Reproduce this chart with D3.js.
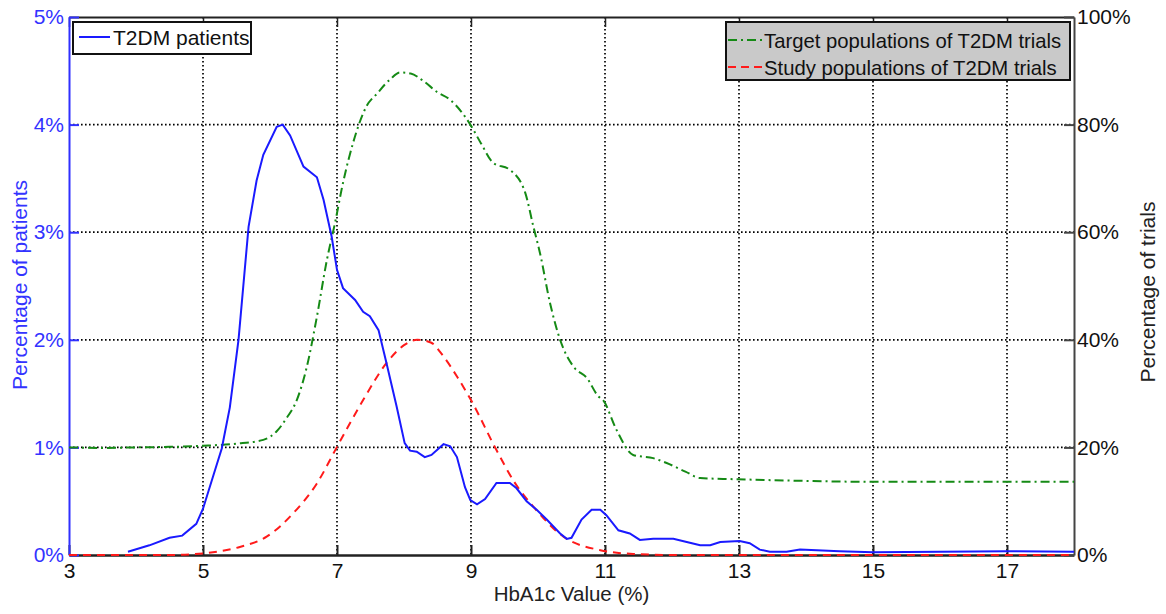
<!DOCTYPE html>
<html>
<head>
<meta charset="utf-8">
<script src="https://cdn.jsdelivr.net/npm/d3@7"></script>
<style>
  body { margin: 0; background: #fff; }
  text { font-family: "Liberation Sans", Arial, sans-serif; }
</style>
</head>
<body>
<div id="chart"></div>
<script>
// T2DM patients, HbA1c (%) vs percentage of patients (left axis)
const patientX = [3.88, 4.2, 4.5, 4.69, 4.9, 5.0, 5.18, 5.28, 5.4, 5.53, 5.68, 5.8, 5.9, 6.1, 6.19, 6.3, 6.5, 6.7, 6.8, 6.92,
  7.0, 7.09, 7.27, 7.39, 7.49, 7.62, 7.74, 7.89, 8.01, 8.09, 8.19, 8.31, 8.41, 8.59, 8.69, 8.79, 8.91, 8.99, 9.09, 9.21,
  9.38, 9.58, 9.68, 9.83, 9.98, 10.13, 10.33, 10.43, 10.5, 10.65, 10.8, 10.93, 11.02, 11.2, 11.37, 11.52, 11.72, 12.02, 12.22, 12.42,
  12.57, 12.72, 13.01, 13.16, 13.31, 13.46, 13.71, 13.91, 14.5, 15, 16, 17, 18];
const patientPct = [0.03, 0.09, 0.16, 0.18, 0.29, 0.43, 0.79, 0.99, 1.37, 2.0, 3.05, 3.48, 3.72, 3.98, 4.0, 3.9, 3.61, 3.51, 3.3, 2.96,
  2.65, 2.48, 2.37, 2.26, 2.22, 2.09, 1.78, 1.38, 1.04, 0.97, 0.96, 0.91, 0.93, 1.03, 1.01, 0.91, 0.63, 0.51, 0.47, 0.52,
  0.67, 0.67, 0.62, 0.5, 0.42, 0.33, 0.2, 0.15, 0.16, 0.33, 0.42, 0.42, 0.37, 0.23, 0.2, 0.14, 0.15, 0.15, 0.12, 0.09,
  0.09, 0.12, 0.13, 0.11, 0.05, 0.03, 0.03, 0.05, 0.035, 0.025, 0.03, 0.035, 0.03];

// target populations of trials (right axis)
const targetX = [3, 3.5, 4, 4.5, 5, 5.5, 5.9, 6.1, 6.25, 6.4, 6.55, 6.7, 6.85, 6.97, 7.09, 7.24, 7.44, 7.6, 7.8, 7.94,
  8.1, 8.3, 8.5, 8.69, 8.99, 9.15, 9.33, 9.58, 9.81, 9.93, 10.03, 10.18, 10.33, 10.53, 10.73, 10.9, 10.97, 11.17, 11.42, 11.72,
  11.92, 12.2, 12.42, 12.91, 13.91, 15, 16, 17, 18];
const targetPct = [20, 19.9, 20, 20.1, 20.3, 20.7, 21.4, 23, 25.5, 28.8, 35, 44.3, 54.9, 61.7, 69.2, 76.6, 83.4, 85.8, 88.5, 89.7,
  89.5, 88, 86, 84.6, 80, 76.5, 72.9, 71.6, 67.3, 61.1, 56.1, 46.8, 40, 35, 32.9, 29.5, 28.8, 23.3, 18.6, 18,
  17.1, 15.5, 14.3, 14.1, 13.8, 13.6, 13.6, 13.6, 13.6];

// study populations of trials (right axis)
const studyX = [3, 4, 4.5, 5, 5.55, 5.95, 6.35, 6.7, 7.0, 7.39, 7.74, 8.0, 8.2, 8.4, 8.59, 8.8, 9.0, 9.38, 9.65, 9.93,
  10.38, 10.93, 11.42, 12, 18];
const studyPct = [0, 0, 0, 0.3, 1.5, 3.4, 7.8, 13.3, 20.1, 28.8, 35.7, 39, 40, 39.5, 36.9, 33, 28.8, 19.5, 13.5, 9,
  3.4, 0.9, 0.2, 0, 0];

const xTicks = [3, 5, 7, 9, 11, 13, 15, 17];
const leftTicks = [0, 1, 2, 3, 4, 5];
const rightTicks = [0, 20, 40, 60, 80, 100];

const width = 1166, height = 614;
const plot = {left: 69, right: 1074, top: 17, bottom: 555};
const fontSize = 21;

let zip = function(xs, ys) {
    return xs.map(function(x, i) { return [x, ys[i]]; });
};

let svg = d3.select('#chart').append('svg').attr('width', width).attr('height', height);

let x = d3.scaleLinear().domain([3, 18]).range([plot.left, plot.right]);
let yLeft = d3.scaleLinear().domain([0, 5]).range([plot.bottom, plot.top]);
let yRight = d3.scaleLinear().domain([0, 100]).range([plot.bottom, plot.top]);

// dotted grid
let grid = svg.append('g').attr('stroke', '#000').attr('stroke-width', 1.7).attr('stroke-dasharray', '1.6,2.4');
grid.selectAll('.vgrid').data(xTicks.slice(1)).enter().append('line')
    .attr('x1', function(d) { return x(d); }).attr('x2', function(d) { return x(d); })
    .attr('y1', plot.top).attr('y2', plot.bottom);
grid.selectAll('.hgrid').data(leftTicks.slice(1, -1)).enter().append('line')
    .attr('x1', plot.left).attr('x2', plot.right)
    .attr('y1', function(d) { return yLeft(d); }).attr('y2', function(d) { return yLeft(d); });

// axes (inward ticks, MATLAB style)
let bottomAxis = d3.axisBottom(x).tickValues(xTicks).tickSizeInner(-10).tickSizeOuter(0).tickPadding(8);
let gb = svg.append('g').attr('transform', 'translate(0,' + plot.bottom + ')').call(bottomAxis);
gb.select('.domain').attr('stroke', '#222').attr('stroke-width', 2.5);
gb.selectAll('.tick line').attr('stroke', '#222').attr('stroke-width', 2);
gb.selectAll('text').attr('font-size', fontSize).attr('fill', '#111')
    .attr('font-family', '"Liberation Sans", Arial, sans-serif');

let topAxis = d3.axisTop(x).tickValues(xTicks).tickSizeInner(-10).tickSizeOuter(0).tickFormat('');
let gt = svg.append('g').attr('transform', 'translate(0,' + plot.top + ')').call(topAxis);
gt.select('.domain').attr('stroke', '#222').attr('stroke-width', 2);
gt.selectAll('.tick line').attr('stroke', '#222').attr('stroke-width', 1.5);

let leftAxis = d3.axisLeft(yLeft).tickValues(leftTicks).tickSizeInner(-10).tickSizeOuter(0).tickPadding(5)
    .tickFormat(function(d) { return d + '%'; });
let gl = svg.append('g').attr('transform', 'translate(' + plot.left + ',0)').call(leftAxis);
gl.select('.domain').attr('stroke', '#3030ff').attr('stroke-width', 2);
gl.selectAll('.tick line').attr('stroke', '#3030ff').attr('stroke-width', 2);
gl.selectAll('text').attr('font-size', fontSize).attr('fill', '#3333ff')
    .attr('font-family', '"Liberation Sans", Arial, sans-serif');

let rightAxis = d3.axisRight(yRight).tickValues(rightTicks).tickSizeInner(-10).tickSizeOuter(0).tickPadding(3)
    .tickFormat(function(d) { return d + '%'; });
let gr = svg.append('g').attr('transform', 'translate(' + plot.right + ',0)').call(rightAxis);
gr.select('.domain').attr('stroke', '#444').attr('stroke-width', 2);
gr.selectAll('.tick line').attr('stroke', '#444').attr('stroke-width', 2);
gr.selectAll('text').attr('font-size', fontSize).attr('fill', '#111')
    .attr('font-family', '"Liberation Sans", Arial, sans-serif');

// axis titles
svg.append('text').attr('x', (plot.left + plot.right) / 2).attr('y', 601)
    .attr('text-anchor', 'middle').attr('font-size', 20.5).attr('fill', '#222')
    .text('HbA1c Value (%)');
svg.append('text').attr('transform', 'translate(27,285) rotate(-90)')
    .attr('text-anchor', 'middle').attr('font-size', fontSize).attr('fill', '#3333ff')
    .text('Percentage of patients');
svg.append('text').attr('transform', 'translate(1155,292) rotate(-90)')
    .attr('text-anchor', 'middle').attr('font-size', fontSize).attr('fill', '#222')
    .text('Percentage of trials');

// curves
let leftLine = d3.line().x(function(d) { return x(d[0]); }).y(function(d) { return yLeft(d[1]); });
let rightLine = d3.line().x(function(d) { return x(d[0]); }).y(function(d) { return yRight(d[1]); })
    .curve(d3.curveMonotoneX);

svg.append('path').datum(zip(targetX, targetPct)).attr('d', rightLine)
    .attr('fill', 'none').attr('stroke', '#158a15').attr('stroke-width', 2)
    .attr('stroke-dasharray', '9,4,2,4');
svg.append('path').datum(zip(studyX, studyPct)).attr('d', rightLine)
    .attr('fill', 'none').attr('stroke', '#ff1a1a').attr('stroke-width', 2)
    .attr('stroke-dasharray', '8,6');
svg.append('path').datum(zip(patientX, patientPct)).attr('d', leftLine)
    .attr('fill', 'none').attr('stroke', '#1a1aff').attr('stroke-width', 2);

// legends
let legend1 = svg.append('g');
legend1.append('rect').attr('x', 73).attr('y', 22).attr('width', 178).attr('height', 32)
    .attr('fill', '#fff').attr('stroke', '#111').attr('stroke-width', 2);
legend1.append('line').attr('x1', 79).attr('x2', 110).attr('y1', 37).attr('y2', 37)
    .attr('stroke', '#1a1aff').attr('stroke-width', 2);
legend1.append('text').attr('x', 113).attr('y', 45).attr('font-size', fontSize).attr('fill', '#111')
    .text('T2DM patients');

let legend2 = svg.append('g');
legend2.append('rect').attr('x', 726).attr('y', 22).attr('width', 344).attr('height', 58)
    .attr('fill', '#c9c9c9').attr('stroke', '#111').attr('stroke-width', 2);
let entries = [
    {label: 'Target populations of T2DM trials', color: '#158a15', dash: '9,4,2,4'},
    {label: 'Study populations of T2DM trials', color: '#ff1a1a', dash: '8,5'}
];
entries.forEach(function(entry, i) {
    let yy = 40 + i * 27;
    legend2.append('line').attr('x1', 728).attr('x2', 762).attr('y1', yy).attr('y2', yy)
        .attr('stroke', entry.color).attr('stroke-width', 2).attr('stroke-dasharray', entry.dash);
    legend2.append('text').attr('x', 764).attr('y', yy + 8).attr('font-size', 20.3).attr('fill', '#111')
        .text(entry.label);
});
</script>
</body>
</html>
